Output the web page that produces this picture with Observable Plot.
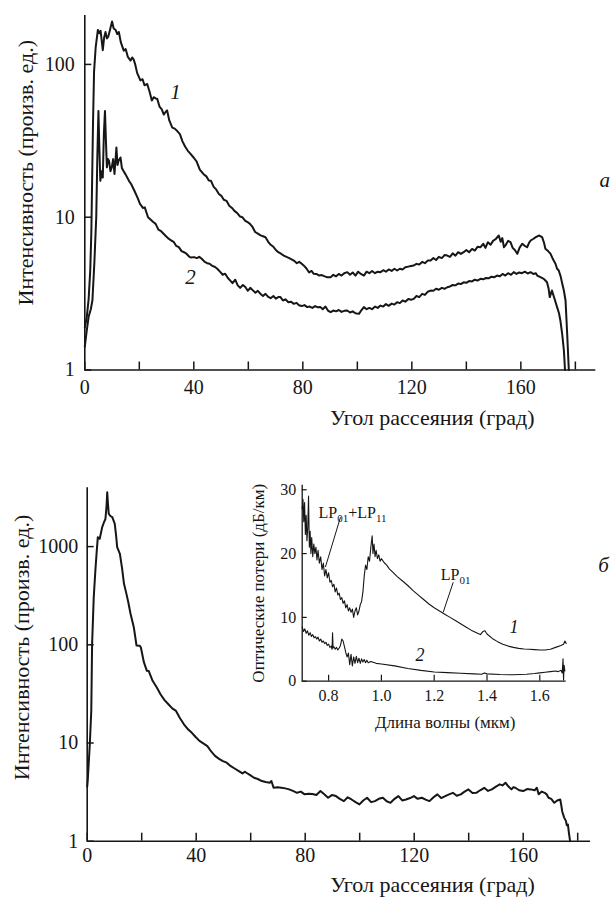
<!DOCTYPE html>
<html><head><meta charset="utf-8">
<script src="https://cdn.jsdelivr.net/npm/d3@7"></script>
<script src="https://cdn.jsdelivr.net/npm/@observablehq/plot@0.6"></script>
<style>
html,body{margin:0;padding:0;background:#fff;}
#root{position:relative;width:611px;height:898px;overflow:hidden;background:#fff;}
#root svg{position:absolute;overflow:visible;max-width:none;}
#root svg, #root svg text{font-family:"Liberation Serif","Times New Roman",serif !important;}
</style></head><body><div id="root"></div>
<script>
// ---------- DATA ----------
// Panel (а): scattering angle (deg) vs intensity (arb. units), curves 1 and 2
const curveA1 = [[0,1.9],[0.7,2.2],[1.4,2.9],[2.0,4.5],[2.4,8],[3.0,40],[3.4,90],[4.0,130],[4.8,168],[5.3,160],[5.8,166],[6.6,124],[7.1,150],[7.6,163],[8.1,148],[8.6,152],[9.3,170],[10.0,191],[10.6,172],[11.3,168],[11.9,158],[12.5,163],[13.2,140],[14.3,123],[15.0,126],[15.8,112],[16.8,106],[17.4,111],[17.9,108],[18.5,100],[19.2,88],[20.4,78.6],[21.2,80],[21.9,73],[22.9,74.5],[23.8,66],[24.6,58],[25.3,61],[26.0,60],[26.6,59.4],[27.4,53],[28.2,51],[29.0,47],[29.7,49],[30.2,50],[31.0,43],[32.1,38.6],[33.0,38],[34.0,36.5],[34.9,35],[35.8,31.5],[36.8,29],[37.8,27.2],[38.8,26],[40.0,24.5],[41.0,23.2],[42.2,20.5],[43.5,19.2],[44.6,18.5],[45.5,17.4],[46.3,17.3],[47.3,15.8],[48.2,15.2],[49.2,14.2],[50.1,13.8],[51.0,13.0],[52.0,12.8],[53.0,11.9],[54.0,11.5],[54.9,11.0],[56.0,10.6],[57.0,10.1],[57.8,10.0],[58.8,9.5],[59.7,9.3],[60.6,9.05],[61.6,8.6],[62.5,8.0],[63.5,7.8],[64.5,7.6],[65.4,7.5],[66.3,7.4],[67.3,6.9],[68.2,6.6],[69.2,6.4],[70.1,6.1],[71.0,5.9],[72.0,5.77],[73.0,5.6],[74.0,5.5],[75.0,5.4],[76.7,5.2],[77.8,5.0],[78.7,5.1],[79.6,4.96],[80.5,4.8],[81.4,4.6],[82.3,4.35],[83.2,4.45],[84.0,4.26],[85.0,4.25],[86.0,4.15],[87.0,4.18],[88.0,4.1],[89.0,4.05],[90.2,4.05],[91.2,4.2],[92.2,4.1],[93.2,4.25],[94.2,4.15],[95.2,4.3],[96.3,4.37],[97.3,4.2],[98.3,4.35],[99.3,4.15],[100.3,4.4],[101.3,4.25],[102.4,4.15],[103.4,4.4],[104.4,4.3],[105.4,4.45],[106.5,4.3],[107.5,4.4],[108.5,4.37],[109.5,4.5],[110.5,4.4],[111.5,4.55],[112.6,4.45],[113.6,4.6],[114.6,4.48],[115.6,4.6],[116.6,4.55],[117.6,4.7],[118.7,4.75],[119.7,4.8],[120.7,4.83],[121.7,4.95],[122.7,4.9],[123.8,5.1],[124.8,5.0],[125.8,5.2],[126.9,5.2],[127.9,5.4],[128.9,5.25],[129.9,5.5],[131.0,5.4],[132.0,5.65],[133.0,5.61],[134.0,5.5],[135.0,5.8],[136.0,5.6],[137.0,5.9],[138.0,5.75],[139.0,5.9],[140.0,6.1],[141.0,5.9],[142.1,6.2],[143.1,6.05],[144.1,6.4],[145.2,6.36],[146.2,6.7],[147.0,6.3],[147.9,6.86],[148.9,6.6],[149.8,7.0],[150.8,7.2],[151.9,7.59],[152.6,6.9],[153.2,7.3],[153.8,6.36],[154.5,6.6],[155.3,7.0],[156.2,6.86],[157.0,6.3],[157.8,6.1],[158.7,5.76],[159.5,6.3],[160.5,6.7],[161.4,6.5],[162.3,6.36],[163.0,6.8],[163.6,7.04],[164.5,7.2],[165.5,7.4],[166.6,7.59],[167.8,7.4],[168.5,6.8],[169.0,6.21],[170.0,6.0],[170.9,5.76],[171.8,5.3],[172.7,4.96],[173.3,4.6],[173.9,4.48],[174.6,4.1],[175.2,3.67],[175.8,3.3],[176.4,2.85],[177.0,1.72],[177.6,1.0]];
const curveA2 = [[0,1.42],[0.7,1.8],[1.4,2.23],[2.2,2.5],[2.8,2.86],[3.5,5],[4.2,10],[4.6,25],[5.0,49.6],[5.3,30],[5.7,17.3],[6.2,20],[6.6,18.2],[7.0,35],[7.4,49.6],[7.8,30],[8.1,21.2],[8.5,24],[8.9,23.4],[9.4,20],[9.9,21.2],[10.4,24],[10.9,19.2],[11.6,28.6],[12.0,22],[12.4,23.4],[13.1,24.6],[13.6,21],[14.1,20.2],[15.0,19],[16.2,17.3],[17.0,16.5],[18.2,14.9],[19.3,13.5],[20.3,12.2],[21.3,11.5],[22.0,11.6],[23.2,10.0],[24.3,9.6],[25.1,9.3],[26.0,9.05],[27.0,8.3],[28.0,8.1],[28.9,7.8],[29.8,7.5],[30.5,7.3],[31.7,7.04],[32.6,6.9],[33.5,6.5],[34.5,6.37],[35.5,6.0],[36.4,5.9],[37.3,5.77],[38.4,5.5],[39.0,5.45],[40.1,5.48],[41.1,5.4],[42.0,5.5],[42.9,5.35],[44.0,5.1],[44.9,5.0],[45.8,4.96],[46.8,4.8],[47.8,4.72],[48.6,4.6],[49.6,4.4],[50.6,4.2],[51.5,4.27],[52.5,4.0],[53.3,3.86],[54.2,3.7],[55.2,3.9],[56.1,3.58],[57.0,3.45],[58.0,3.6],[58.9,3.49],[59.8,3.3],[60.7,3.45],[61.7,3.32],[62.6,3.2],[63.5,3.3],[64.4,3.16],[65.4,3.05],[66.3,3.15],[67.3,3.01],[68.2,2.95],[69.2,3.05],[70.1,2.93],[71.0,3.0],[71.8,3.0],[72.7,2.85],[73.6,2.9],[74.7,2.78],[75.7,2.8],[76.7,2.71],[77.7,2.75],[78.6,2.65],[79.6,2.62],[80.6,2.66],[81.6,2.58],[82.5,2.6],[83.5,2.55],[84.5,2.62],[85.5,2.57],[86.5,2.58],[87.3,2.5],[88.3,2.6],[89.2,2.45],[90.2,2.39],[91.2,2.45],[92.2,2.42],[93.2,2.47],[94.2,2.4],[95.2,2.44],[96.3,2.45],[97.3,2.38],[98.3,2.42],[99.3,2.35],[100.6,2.33],[101.4,2.45],[102.4,2.58],[103.4,2.5],[104.4,2.55],[105.4,2.5],[106.5,2.6],[107.5,2.55],[108.5,2.64],[109.5,2.6],[110.5,2.7],[111.5,2.63],[112.6,2.72],[113.6,2.68],[114.6,2.78],[115.6,2.74],[116.6,2.85],[117.6,2.8],[118.7,2.92],[119.7,2.88],[120.7,2.92],[121.7,3.05],[122.7,3.0],[123.8,3.15],[124.8,3.1],[125.8,3.25],[126.9,3.31],[127.9,3.3],[128.9,3.4],[129.9,3.35],[131.0,3.45],[132.0,3.4],[133.0,3.48],[134.0,3.52],[135.0,3.6],[136.0,3.58],[137.0,3.68],[138.0,3.65],[139.0,3.75],[140.0,3.72],[141.0,3.82],[142.1,3.8],[143.1,3.9],[144.1,3.85],[145.2,3.95],[146.2,3.92],[147.2,4.0],[148.2,3.98],[149.2,4.08],[150.3,4.05],[151.3,4.15],[152.3,4.1],[153.3,4.25],[154.3,4.15],[155.3,4.3],[156.4,4.2],[157.4,4.37],[158.4,4.25],[159.4,4.35],[160.4,4.3],[161.5,4.4],[162.5,4.28],[163.6,4.37],[164.6,4.25],[165.5,4.3],[166.0,4.15],[167.2,4.05],[168.4,3.95],[169.0,3.85],[169.6,3.75],[170.2,3.4],[170.6,3.0],[171.0,3.15],[171.4,3.31],[172.3,2.95],[173.3,2.58],[174.0,2.35],[174.5,2.11],[175.2,1.7],[175.8,1.34],[176.2,1.0]];
// Panel (б): scattering angle (deg) vs intensity (arb. units)
const curveB = [[0,3.6],[0.2,4.15],[0.96,9.8],[1.5,21.4],[1.8,102],[2.4,305],[3.0,571],[3.5,900],[3.9,1247],[4.6,1200],[5.5,1580],[6.1,1750],[6.7,1920],[7.1,2600],[7.35,3580],[7.6,2800],[7.9,2160],[8.5,2050],[9.2,1995],[10.1,1710],[10.6,1300],[11.0,986],[12.0,845],[12.8,600],[13.5,418],[14.4,330],[15.1,270],[15.9,207],[17.1,151],[18.1,98.4],[19.3,98],[19.7,94],[20.8,66.5],[21.9,54.3],[22.6,54],[24.0,43],[25.5,37],[26.9,31.4],[28.3,27.5],[29.8,24.8],[31.2,22.5],[32.6,21.2],[34.0,18],[35.5,15.5],[37.0,13.8],[38.4,12.7],[39.8,11.5],[41.2,10.5],[42.6,9.9],[44.1,9.3],[45.5,8.2],[46.9,7.4],[48.4,6.9],[49.8,6.55],[51.2,6.3],[52.7,5.8],[54.1,5.5],[55.5,5.2],[57.0,4.9],[57.8,5.1],[58.4,4.98],[59.8,4.7],[61.2,4.43],[62.6,4.3],[64.1,4.1],[65.5,4.0],[67.0,3.94],[67.6,4.1],[68.4,3.5],[69.8,3.55],[71.3,3.5],[72.7,3.45],[74.1,3.37],[75.5,3.25],[77.0,3.11],[78.4,3.2],[79.8,3.0],[81.2,3.05],[82.7,3.03],[84.1,2.95],[85.6,3.24],[87.0,3.0],[88.4,2.77],[89.8,2.95],[91.3,2.88],[92.7,2.7],[94.2,2.56],[95.6,2.8],[97.0,2.66],[98.5,2.5],[99.9,2.37],[101.3,2.6],[102.7,2.77],[104.2,2.5],[105.6,2.56],[107.0,2.7],[108.5,2.77],[109.9,2.55],[111.3,2.46],[112.8,2.7],[114.2,2.88],[115.6,2.6],[117.0,2.66],[118.5,2.75],[119.9,2.88],[121.3,2.7],[122.8,2.77],[124.2,2.65],[125.6,2.56],[127.1,2.8],[128.5,3.0],[129.9,2.75],[131.4,2.88],[132.8,3.0],[134.2,3.11],[135.6,2.9],[137.1,3.0],[138.5,3.2],[139.9,3.37],[141.4,3.1],[142.8,3.11],[144.2,3.3],[145.7,3.5],[147.1,3.25],[148.5,3.37],[150.0,3.6],[151.4,3.79],[152.4,3.7],[153.5,3.94],[154.6,3.6],[155.7,3.37],[156.4,3.55],[157.1,3.5],[158.5,3.3],[160.0,3.24],[161.4,3.4],[162.8,3.37],[164.2,3.3],[165.0,3.5],[165.7,3.0],[166.8,3.2],[167.9,3.11],[168.6,3.0],[169.3,2.77],[170.3,2.7],[171.4,2.46],[172.5,2.6],[173.6,2.66],[174.0,2.3],[174.3,2.02],[175.0,1.75],[175.7,1.6],[176.0,1.45],[176.4,1.48],[176.8,1.2],[177.2,1.0]];
// Inset: wavelength (µm) vs optical loss (dB/km), curves 1 and 2
const lossCurve1 = [[0.700,27],[0.703,28.5],[0.706,25],[0.709,28],[0.712,23],[0.715,26],[0.718,22],[0.721,24],[0.724,29],[0.727,21],[0.730,23.5],[0.733,20],[0.736,22.5],[0.740,19.5],[0.744,21.5],[0.748,20],[0.752,21],[0.756,19],[0.760,20.5],[0.765,18.5],[0.770,19.5],[0.775,17.5],[0.780,18.5],[0.785,16.5],[0.790,17.5],[0.795,16.2],[0.800,17],[0.805,15.5],[0.810,15.8],[0.815,14.8],[0.820,15.2],[0.825,14.0],[0.830,14.6],[0.835,13.5],[0.840,13.8],[0.845,12.8],[0.850,13.1],[0.855,12.2],[0.860,12.6],[0.865,11.5],[0.870,12.0],[0.875,11.0],[0.880,11.5],[0.885,10.8],[0.890,11.3],[0.895,10.0],[0.900,11.0],[0.905,11.5],[0.910,10.4],[0.915,11.0],[0.920,12.0],[0.925,12.5],[0.930,14.0],[0.935,16.5],[0.940,18.2],[0.945,17.5],[0.950,19.5],[0.955,18.8],[0.960,21.0],[0.965,22.8],[0.968,20.0],[0.972,21.5],[0.976,19.5],[0.980,20.5],[0.985,19.2],[0.990,19.8],[0.995,18.8],[1.000,19.2],[1.010,18.6],[1.020,18.2],[1.030,17.6],[1.040,17.2],[1.060,16.4],[1.080,15.7],[1.100,15.0],[1.120,14.2],[1.140,13.5],[1.160,12.8],[1.180,12.1],[1.200,11.5],[1.220,11.0],[1.240,10.5],[1.260,10.0],[1.280,9.5],[1.300,9.0],[1.320,8.5],[1.340,8.0],[1.360,7.6],[1.375,7.3],[1.385,7.8],[1.392,7.9],[1.400,7.4],[1.420,6.7],[1.440,6.2],[1.460,5.8],[1.480,5.5],[1.500,5.3],[1.520,5.15],[1.540,5.05],[1.560,5.0],[1.580,4.95],[1.600,4.9],[1.620,4.9],[1.640,5.0],[1.660,5.3],[1.680,5.6],[1.690,5.8],[1.695,6.3],[1.700,5.9]];
const lossCurve2 = [[0.700,8.5],[0.705,7.8],[0.710,8.2],[0.715,7.5],[0.720,7.9],[0.725,7.2],[0.730,7.6],[0.735,7.0],[0.740,7.3],[0.745,6.8],[0.750,7.0],[0.755,6.6],[0.760,6.9],[0.765,6.3],[0.770,6.6],[0.775,6.1],[0.780,6.3],[0.785,5.9],[0.790,6.1],[0.795,5.6],[0.800,5.8],[0.805,5.3],[0.810,5.5],[0.813,5.0],[0.815,7.6],[0.817,5.2],[0.820,5.4],[0.825,5.0],[0.830,5.3],[0.835,4.9],[0.840,5.2],[0.845,5.6],[0.850,6.6],[0.855,6.3],[0.860,5.4],[0.865,4.5],[0.870,3.8],[0.875,4.4],[0.880,2.6],[0.885,4.2],[0.890,2.4],[0.895,3.8],[0.900,2.8],[0.905,3.9],[0.910,2.9],[0.915,3.6],[0.920,2.8],[0.925,3.5],[0.930,3.0],[0.935,3.4],[0.940,2.9],[0.945,3.3],[0.950,2.9],[0.960,3.1],[0.980,2.8],[1.000,2.7],[1.050,2.4],[1.100,2.0],[1.150,1.7],[1.200,1.45],[1.250,1.35],[1.300,1.25],[1.350,1.15],[1.380,1.1],[1.390,1.3],[1.400,1.15],[1.450,1.05],[1.500,1.0],[1.550,1.1],[1.580,1.2],[1.600,1.3],[1.620,1.4],[1.640,1.5],[1.660,1.6],[1.670,1.5],[1.680,1.7],[1.685,1.3],[1.688,3.5],[1.690,0.2],[1.692,2.5],[1.695,1.6]];
// Ticks and labels
const angleTicks = [0,20,40,60,80,100,120,140,160,180];
const angleLabels = [0,40,80,120,160];
const intensityTicksA = [1,10,100];
const intensityTicksB = [1,10,100,1000];
const waveTicks = [0.8,1.0,1.2,1.4,1.6];
const lossTicks = [0,10,20,30];
const xTitle = "Угол рассеяния (град)";
const yTitle = "Интенсивность (произв. ед.)";
const insetXTitle = "Длина волны (мкм)";
const insetYTitle = "Оптические потери (дБ/км)";

// ---------- RENDER ----------
const INK = "#161616";
const SERIF = "Liberation Serif";
const root = document.getElementById("root");
const X = d => d[0], Y = d => d[1];

function place(svg, left, top) {
  svg.style.left = left + "px";
  svg.style.top = top + "px";
  root.appendChild(svg);
  return svg;
}

function axesMarks(xt, xl, yt, xPad, fmt, ySize, xSize, fs, sw) {
  return [
    Plot.axisX(xt, {tickSize: -xSize, tickFormat: () => "", label: null, strokeWidth: sw}),
    Plot.axisX(xl, {tickSize: 0, tickPadding: xPad, tickFormat: fmt.x, label: null, fontSize: fs, fontFamily: SERIF}),
    Plot.axisY(yt, {tickSize: -ySize, tickFormat: () => "", label: null, strokeWidth: sw}),
    Plot.axisY(yt, {tickSize: 0, tickPadding: fmt.yPad, tickFormat: fmt.y, label: null, fontSize: fs, fontFamily: SERIF})
  ];
}
const T = (extra) => Object.assign({fill: INK, fontFamily: SERIF, textAnchor: "middle", lineAnchor: "middle"}, extra);

// Panel а
const plotA = Plot.plot({
  width: 611, height: 440,
  marginLeft: 84.3, marginRight: 15.7, marginTop: 15, marginBottom: 70.5,
  x: {domain: [0, 187.5]},
  y: {type: "log", domain: [1, 209]},
  style: {fontSize: "20px", color: INK, background: "transparent"},
  marks: [
    ...axesMarks(angleTicks, angleLabels, intensityTicksA, 10, {x: d => String(d), y: d => String(d), yPad: 10}, 7, 8, 20, 1.5),
    Plot.ruleY([1], {stroke: INK, strokeWidth: 1.6}),
    Plot.ruleX([0], {stroke: INK, strokeWidth: 1.6}),
    Plot.line(curveA1, {x: X, y: Y, stroke: INK, strokeWidth: 2}),
    Plot.line(curveA2, {x: X, y: Y, stroke: INK, strokeWidth: 2}),
    Plot.text(["1"], T({x: 33.3, y: 65.5, fontSize: 21, fontStyle: "italic"})),
    Plot.text(["2"], T({x: 38.8, y: 4.03, fontSize: 21, fontStyle: "italic"})),
    Plot.text(["а"], T({frameAnchor: "right", dx: 9, dy: -12, fontSize: 21, fontStyle: "italic"})),
    Plot.text([xTitle], T({frameAnchor: "bottom", dx: 92, dy: 48, fontSize: 22})),
    Plot.text([yTitle], T({frameAnchor: "left", rotate: -90, dx: -58.5, dy: -20, fontSize: 22}))
  ]
});
place(plotA, 0, 0);

// Panel б
const plotB = Plot.plot({
  width: 611, height: 458,
  marginLeft: 86.7, marginRight: 21, marginTop: 47.3, marginBottom: 57.3,
  x: {domain: [0, 184.7]},
  y: {type: "log", domain: [1, 3970]},
  style: {fontSize: "20px", color: INK, background: "transparent"},
  marks: [
    ...axesMarks(angleTicks, angleLabels, intensityTicksB, 7, {x: d => String(d), y: d => String(d), yPad: 9}, 7, 8, 20, 1.5),
    Plot.ruleY([1], {stroke: INK, strokeWidth: 1.6}),
    Plot.ruleX([0], {stroke: INK, strokeWidth: 1.6}),
    Plot.line(curveB, {x: X, y: Y, stroke: INK, strokeWidth: 2}),
    Plot.text(["б"], T({frameAnchor: "right", dx: 13, dy: -99, fontSize: 21, fontStyle: "italic"})),
    Plot.text([xTitle], T({frameAnchor: "bottom", dx: 93.6, dy: 43.5, fontSize: 22})),
    Plot.text([yTitle], T({frameAnchor: "left", rotate: -90, dx: -65, dy: -17, fontSize: 22}))
  ]
});
place(plotB, 0, 440);

// Inset
const f1 = d3.format(".1f");
const inset = Plot.plot({
  width: 360, height: 270,
  marginLeft: 61.7, marginRight: 34.3, marginTop: 14.8, marginBottom: 59.3,
  x: {domain: [0.7, 1.7]},
  y: {domain: [0, 30.7]},
  style: {fontSize: "16px", color: INK, background: "transparent"},
  marks: [
    ...axesMarks(waveTicks, waveTicks, lossTicks, 8, {x: f1, y: d => String(d), yPad: 6}, 5, 6, 16, 1.2),
    Plot.ruleY([0], {stroke: INK, strokeWidth: 1.3}),
    Plot.ruleX([0.7], {stroke: INK, strokeWidth: 1.3}),
    Plot.line(lossCurve1, {x: X, y: Y, stroke: INK, strokeWidth: 1.1}),
    Plot.line(lossCurve2, {x: X, y: Y, stroke: INK, strokeWidth: 1.1}),
    Plot.link([0], {x1: 0.845, y1: 25.7, x2: 0.788, y2: 17.9, stroke: INK, strokeWidth: 1}),
    Plot.link([0], {x1: 1.272, y1: 15.5, x2: 1.234, y2: 10.8, stroke: INK, strokeWidth: 1}),
    Plot.text(["LP01+LP11"], T({x: 0.762, y: 26.4, textAnchor: "start", fontSize: 16})),
    Plot.text(["LP01"], T({x: 1.225, y: 16.6, textAnchor: "start", fontSize: 16})),
    Plot.text(["1"], T({x: 1.502, y: 8.4, fontSize: 18, fontStyle: "italic"})),
    Plot.text(["2"], T({x: 1.146, y: 4.0, fontSize: 18, fontStyle: "italic"})),
    Plot.text([insetXTitle], T({frameAnchor: "bottom", dx: 11, dy: 41, fontSize: 17})),
    Plot.text([insetYTitle], T({frameAnchor: "left", rotate: -90, dx: -44, dy: 0, fontSize: 17}))
  ]
});
place(inset, 240, 470);

// Subscripts for mode labels
d3.select(inset).selectAll("text").filter(function() {
  return this.textContent === "LP01+LP11" || this.textContent === "LP01";
}).each(function() {
  const parts = this.textContent === "LP01" ? [["LP", 0], ["01", 1]] : [["LP", 0], ["01", 1], ["+LP", -1], ["11", 1]];
  const t = d3.select(this);
  t.text(null);
  parts.forEach(([s, sub]) => {
    const ts = t.append("tspan").text(s);
    if (sub === 1) ts.attr("dy", 4).attr("font-size", 11);
    if (sub === -1) ts.attr("dy", -4);
  });
});
</script></body></html>
